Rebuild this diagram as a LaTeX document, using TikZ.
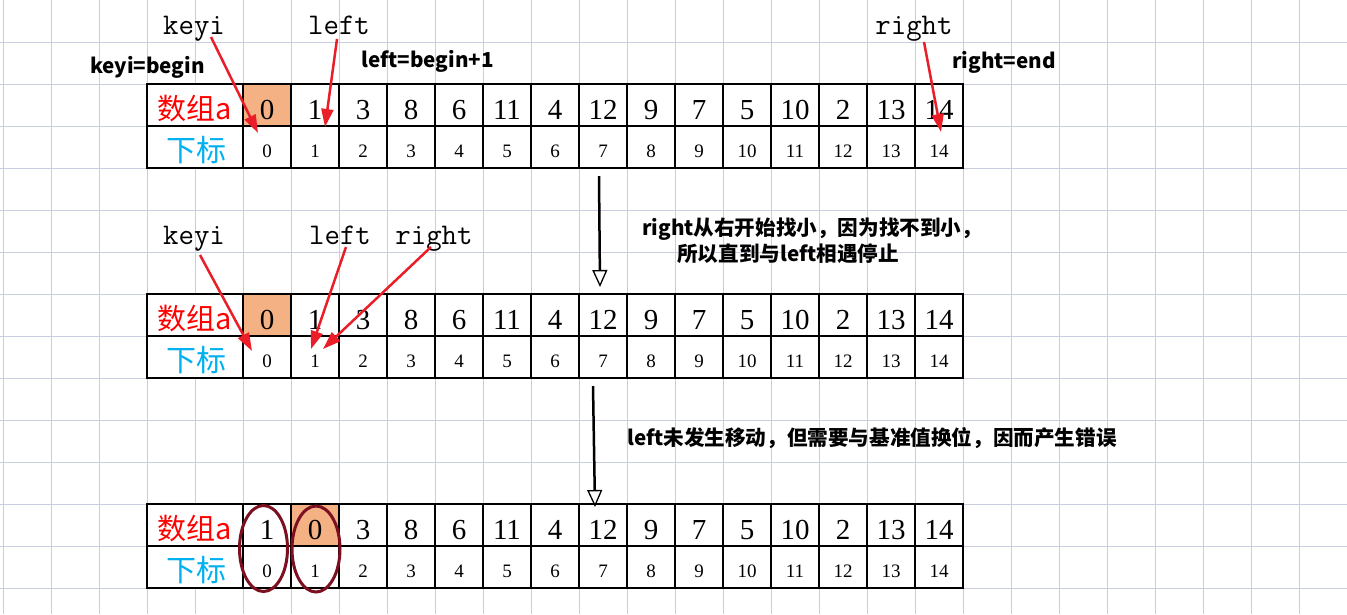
\documentclass[tikz,border=0pt]{standalone}
\usepackage{fontspec}
\setmainfont{Liberation Serif}
\newfontfamily\cjk{Noto Sans CJK SC}
\usetikzlibrary{arrows.meta,shapes.geometric}
\definecolor{gridc}{RGB}{200,206,224}
\definecolor{arrc}{RGB}{234,30,40}
\definecolor{orangec}{RGB}{244,177,131}
\definecolor{redt}{RGB}{255,0,0}
\definecolor{bluet}{RGB}{0,176,240}
\definecolor{circc}{RGB}{125,16,32}
\begin{document}
\begin{tikzpicture}[x=1pt,y=-1pt,
  gridl/.style={gridc, line width=1pt},
  tbl/.style={black, line width=1.2pt},
  val/.style={anchor=base, inner sep=0, font=\fontsize{29}{29}\selectfont},
  idx/.style={anchor=base, inner sep=0, font=\fontsize{19}{19}\selectfont},
  rowa/.style={anchor=base, inner sep=0, text=redt, font=\cjk\fontsize{29}{29}\selectfont},
  rowb/.style={anchor=base, inner sep=0, text=bluet, font=\cjk\fontsize{30}{30}\selectfont},
  ptr/.style={anchor=base, inner sep=0, font=\ttfamily\fontsize{30}{30}\selectfont},
  note/.style={anchor=base west, inner sep=0, font=\cjk\bfseries\fontsize{20.6}{20.6}\selectfont},
  redarr/.style={arrc, line width=2.5pt, -{Triangle[length=18pt,width=12pt]}},
  blkarr/.style={black, line width=2.5pt, -{Triangle[open,length=17pt,width=15pt,line width=1.3pt]}},
  ring/.style={draw=circc, line width=3pt, ellipse, inner sep=0, minimum width=48pt, minimum height=86pt}
]
\useasboundingbox (0,0) rectangle (1347,614);
% background grid
\foreach \k in {0,...,28} \draw[gridl] ({3+48*\k},0) -- ({3+48*\k},614);
\foreach \k in {1,...,14} \draw[gridl] (0,{42*\k}) -- (1347,{42*\k});

% tables
\foreach \T in {84,294,504} {
  \fill[white] (147,\T) rectangle (963,\T+84);
}
\fill[orangec] (243,84) rectangle (291,126);
\fill[orangec] (243,294) rectangle (291,336);
\fill[orangec] (291,504) rectangle (339,546);
\foreach \T in {84,294,504} {
  \draw[tbl] (147,\T) rectangle (963,\T+84);
  \draw[tbl] (147,\T+42) -- (963,\T+42);
  \foreach \k in {0,...,14} \draw[tbl] ({243+48*\k},\T) -- ({243+48*\k},\T+84);
}

% table 1
\node[rowa] (la1) at (195,119) {数组a};
\node[rowb] (lb1) at (196,161) {下标};
\foreach \v [count=\i from 0] in {0,1,3,8,6,11,4,12,9,7,5,10,2,13,14}
  \node[val] (a1-\i) at ({267+48*\i},119) {\v};
\foreach \i in {0,...,14}
  \node[idx] (b1-\i) at ({267+48*\i},157) {\i};
% table 2
\node[rowa] (la2) at (195,329) {数组a};
\node[rowb] (lb2) at (196,371) {下标};
\foreach \v [count=\i from 0] in {0,1,3,8,6,11,4,12,9,7,5,10,2,13,14}
  \node[val] (a2-\i) at ({267+48*\i},329) {\v};
\foreach \i in {0,...,14}
  \node[idx] (b2-\i) at ({267+48*\i},367) {\i};
% table 3
\node[rowa] (la3) at (195,539) {数组a};
\node[rowb] (lb3) at (196,581) {下标};
\foreach \v [count=\i from 0] in {1,0,3,8,6,11,4,12,9,7,5,10,2,13,14}
  \node[val] (a3-\i) at ({267+48*\i},539) {\v};
\foreach \i in {0,...,14}
  \node[idx] (b3-\i) at ({267+48*\i},577) {\i};

% pointer labels
\node[ptr] (keyi1) at (194,34) {keyi};
\node[ptr] (left1) at (339,34) {left};
\node[ptr] (right1) at (914,34) {right};
\node[ptr] (keyi2) at (194,244) {keyi};
\node[ptr] (left2) at (340,244) {left};
\node[ptr] (right2) at (434,244) {right};

% notes
\node[note] (n1) at (90,73) {keyi=begin};
\node[note] (n2) at (361,67) {left=begin+1};
\node[note] (n3) at (952,68) {right=end};
\node[note] (n4) at (642,235) {right从右开始找小，因为找不到小，};
\node[note] (n5) at (677,261) {所以直到与left相遇停止};
\node[note] (n6) at (627,445) {left未发生移动，但需要与基准值换位，因而产生错误};

% red arrows
\coordinate (k1s) at (211,37);  \coordinate (k1e) at (258,133);
\coordinate (l1s) at (337,39);  \coordinate (l1e) at (325,127);
\coordinate (r1s) at (924,42);  \coordinate (r1e) at (941,132);
\coordinate (k2s) at (200,255); \coordinate (k2e) at (252,351);
\coordinate (l2s) at (346,247); \coordinate (l2e) at (311,349);
\coordinate (r2s) at (431,247); \coordinate (r2e) at (323,349);
\draw[redarr] (k1s) -- (k1e);
\draw[redarr] (l1s) -- (l1e);
\draw[redarr] (r1s) -- (r1e);
\draw[redarr] (k2s) -- (k2e);
\draw[redarr] (l2s) -- (l2e);
\draw[redarr] (r2s) -- (r2e);

% black arrows
\coordinate (d1s) at (599,176); \coordinate (d1e) at (600,287);
\coordinate (d2s) at (593,386); \coordinate (d2e) at (595,507);
\draw[blkarr] (d1s) -- (d1e);
\draw[blkarr] (d2s) -- (d2e);

% rings
\node[ring] (c1) at (263.5,548.5) {};
\node[ring] (c2) at (316,549) {};
\end{tikzpicture}
\end{document}
